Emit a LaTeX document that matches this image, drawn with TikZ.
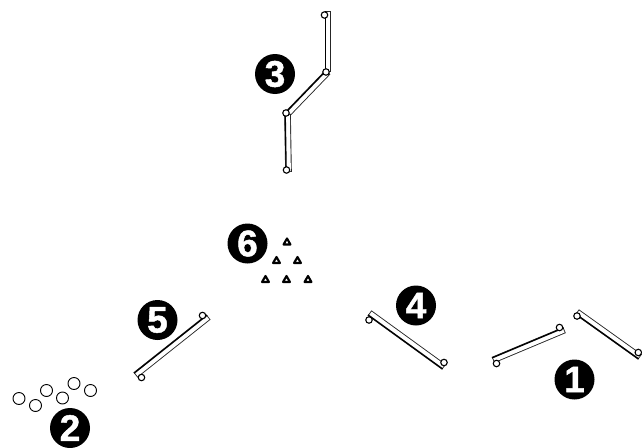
\documentclass[tikz,border=0pt]{standalone}
\usepackage{fontspec}
\setmainfont{Liberation Sans}
\newfontfamily\badgefont[FakeBold=1.2]{Liberation Sans Bold}
\usetikzlibrary{shapes.geometric}
\tikzset{
  x=1pt,y=-1pt,
  badge/.style={circle,fill=black,minimum size=40pt,inner sep=0pt},
  digit/.style={text=white,inner sep=0pt,font=\fontsize{37}{37}\badgefont},
  washer/.style={circle,draw=black,fill=white,line width=0.9pt,minimum size=12pt,inner sep=0pt},
  pin/.style={circle,draw=black,fill=white,line width=1.1pt,minimum size=6.5pt,inner sep=0pt},
  rodbar/.style={draw=black!85,line width=6.6pt,line cap=butt},
  rodcore/.style={draw=white,line width=4.8pt,line cap=butt,shorten >=0.9pt,shorten <=0.9pt},
  rodline/.style={draw=black,line width=1.3pt},
  clip3/.style={regular polygon,regular polygon sides=3,draw=black,fill=white,line width=2.1pt,minimum size=8pt,inner sep=0pt,line join=round},
}
\begin{document}
\begin{tikzpicture}
\useasboundingbox (0,0) rectangle (642,447);
% badges
\node[badge,label={[digit]center:1}] (b1) at (574.5,379.5) {};
\node[badge,label={[digit]center:2}] (b2) at (70,428) {};
\node[badge,label={[digit]center:3}] (b3) at (275,74) {};
\node[badge,label={[digit]center:4}] (b4) at (416,305.5) {};
\node[badge,label={[digit]center:5}] (b5) at (157.5,320) {};
\node[badge,label={[digit]center:6}] (b6) at (247.5,243.5) {};
% rod ends
\coordinate (r4a) at (369.5,313);
\coordinate (r4b) at (444,367);
\coordinate (r1a) at (493,360);
\coordinate (r1b) at (564.5,330);
\coordinate (r1c) at (577,312);
\coordinate (r1d) at (640,357);
\coordinate (r5a) at (135.5,375);
\coordinate (r5b) at (208.5,317);
\coordinate (r3a) at (328,11);
\coordinate (r3b) at (328,72);
\coordinate (r3c) at (287.5,114);
\coordinate (r3d) at (288.5,172);
% rods
\foreach \p/\q in {r4a/r4b,r1a/r1b,r1c/r1d,r5a/r5b,r3a/r3b,r3b/r3c,r3c/r3d}{
  \path[rodbar] (\p) -- (\q);
  \path[rodcore] (\p) -- (\q);
}
\draw[rodline,transform canvas={shift={(-1.4pt,-1.9pt)}}] (r4a) -- (r4b);
\draw[rodline,transform canvas={shift={(-0.9pt,2.1pt)}}] (r1a) -- (r1b);
\draw[rodline,transform canvas={shift={(-1.4pt,-1.9pt)}}] (r1c) -- (r1d);
\draw[rodline,transform canvas={shift={(-1.4pt,1.8pt)}}] (r5a) -- (r5b);
\draw[rodline,transform canvas={shift={(-2.3pt,0pt)}}] (r3a) -- (r3b);
\draw[rodline,transform canvas={shift={(-1.6pt,1.6pt)}}] (r3b) -- (r3c);
\draw[rodline,transform canvas={shift={(-2.3pt,0pt)}}] (r3c) -- (r3d);
% pins
\node[pin] (p4a) at (369,320) {};
\node[pin] (p4b) at (444,362.5) {};
\node[pin] (p1a) at (496.5,363.5) {};
\node[pin] (p1b) at (559.5,327.5) {};
\node[pin] (p1c) at (577,316) {};
\node[pin] (p1d) at (638.3,352.5) {};
\node[pin] (p5a) at (141.5,377.5) {};
\node[pin] (p5b) at (202.5,315.5) {};
\node[pin] (p3a) at (324.5,15) {};
\node[pin] (p3b) at (326,72) {};
\node[pin] (p3c) at (286,113) {};
\node[pin] (p3d) at (286.5,170) {};
% washers
\node[washer] (w1) at (19,398.5) {};
\node[washer] (w2) at (35.5,405.5) {};
\node[washer] (w3) at (46.5,390.5) {};
\node[washer] (w4) at (62.5,398) {};
\node[washer] (w5) at (74,383.5) {};
\node[washer] (w6) at (90.5,390.5) {};
% clips
\node[clip3] (c1) at (287,242.5) {};
\node[clip3] (c2) at (276.5,261) {};
\node[clip3] (c3) at (297.5,261) {};
\node[clip3] (c4) at (265.5,280) {};
\node[clip3] (c5) at (286.5,280) {};
\node[clip3] (c6) at (308,280) {};
\end{tikzpicture}
\end{document}
